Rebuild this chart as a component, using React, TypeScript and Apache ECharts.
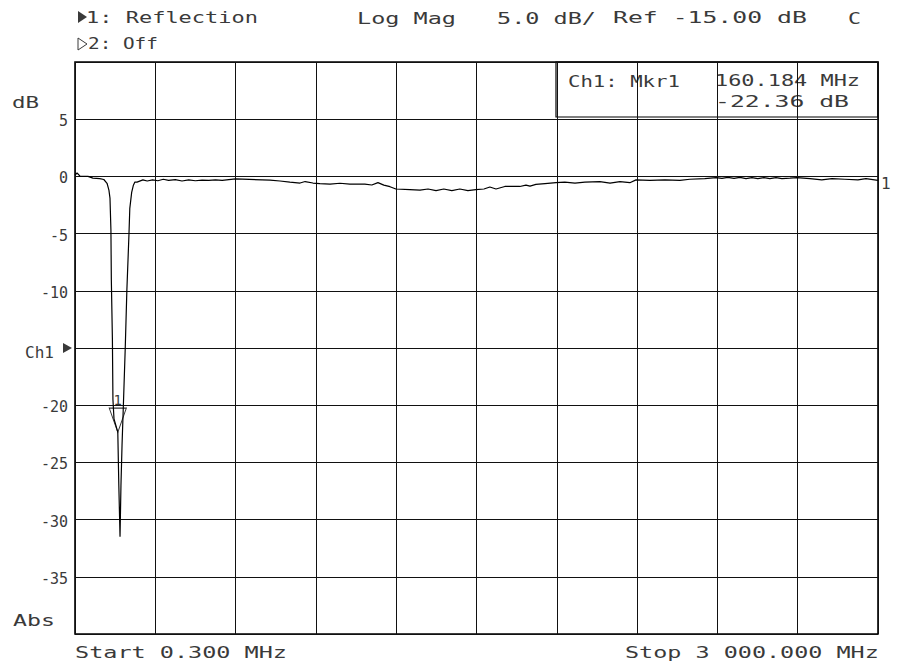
import React, { useEffect, useRef } from "react";
import * as echarts from "echarts";

// ---- Sweep settings ----
const START_MHZ = 0.3;
const STOP_MHZ = 3000;
const Y_MIN = -40;
const Y_MAX = 10;
const DB_PER_DIV = 5;

// ---- Trace (Ch1 reflection, log mag) ----
const freqMHz = [
  0.3, 8, 19, 49, 67, 93, 108, 120, 127, 131, 134.5, 136, 140, 142, 146, 160.184,
  164, 168.5, 172, 176, 181, 188, 194, 202, 205, 212, 218, 224, 232, 254, 270, 290,
  310, 330, 350, 375, 400, 425, 450, 475, 500, 525, 550, 575, 600, 729, 766, 803,
  841, 860, 889, 915, 953, 990, 1027, 1083, 1109, 1132, 1154, 1177, 1199, 1251,
  1289, 1319, 1349, 1378, 1408, 1438, 1468, 1498, 1528, 1550, 1573, 1606, 1662,
  1685, 1700, 1722, 1756, 1797, 1830, 1868, 1905, 1961, 1999, 2036, 2073, 2096,
  2148, 2204, 2260, 2297, 2353, 2395, 2417, 2439, 2462, 2484, 2507, 2529, 2551,
  2574, 2596, 2619, 2641, 2671, 2697, 2746, 2790, 2828, 2876, 2925, 2955, 3000,
];
const magDb = [
  0.1, 0.3, 0.03, 0, -0.15, -0.2, -0.27, -0.6, -1.2, -1.9, -4.7, -9, -14.2, -19.5,
  -21.2, -22.36, -27, -31.5, -27, -23.5, -20, -15, -10, -5, -2.8, -1.4, -0.8, -0.5,
  -0.5, -0.3, -0.4, -0.3, -0.38, -0.25, -0.35, -0.28, -0.4, -0.3, -0.38, -0.32,
  -0.35, -0.3, -0.35, -0.28, -0.22, -0.32, -0.4, -0.5, -0.58, -0.45, -0.58, -0.63,
  -0.67, -0.6, -0.67, -0.67, -0.75, -0.54, -0.76, -0.9, -1.1, -1.15, -1.2, -1.1,
  -1.24, -1.1, -1.24, -1.1, -1.24, -1.15, -1.1, -0.93, -1.1, -0.88, -0.88, -0.77,
  -0.85, -0.7, -0.63, -0.55, -0.5, -0.58, -0.5, -0.45, -0.58, -0.45, -0.55, -0.3,
  -0.35, -0.3, -0.35, -0.25, -0.2, -0.1, -0.17, -0.08, -0.17, -0.08, -0.2, -0.1,
  -0.2, -0.1, -0.2, -0.1, -0.2, -0.15, -0.1, -0.2, -0.3, -0.2, -0.25, -0.3, -0.2,
  -0.35,
];

// ---- Marker ----
const markerFreqMHz = [160.184];
const markerDb = [-22.36];

// ---- Y tick labels ----
const yTickValues = [5, 0, -5, -10, -15, -20, -25, -30, -35];
const yTickTexts = ["5", "0", "-5", "-10", "Ch1", "-20", "-25", "-30", "-35"];

const MONO = "'DejaVu Sans Mono', 'Liberation Mono', monospace";
const INK = "#3a3a3a";

// grid box (pixels)
const G_LEFT = 75;
const G_TOP = 62;
const G_W = 803;
const G_H = 572;

function txt(text: string, left: number, right: number, cy: number, fs = 16) {
  const natural = text.length * 0.602 * fs;
  return {
    type: "text",
    x: left,
    y: cy,
    scaleX: (right - left + 3) / natural,
    silent: true,
    style: {
      text,
      fontFamily: MONO,
      fontSize: fs,
      fill: INK,
      align: "left",
      verticalAlign: "middle",
    },
  };
}

export default function App() {
  const ref = useRef<HTMLDivElement>(null);

  useEffect(() => {
    if (!ref.current) return;
    const chart = echarts.init(ref.current, undefined, { renderer: "svg" });
    const yOf = (v: number) => G_TOP + ((Y_MAX - v) / (Y_MAX - Y_MIN)) * G_H;
    const ch1Y = yOf(-15);

    const option: any = {
      animation: false,
      backgroundColor: "#ffffff",
      grid: {
        left: G_LEFT,
        top: G_TOP,
        width: G_W,
        height: G_H,
        show: true,
        borderColor: "#000",
        borderWidth: 1.6,
        backgroundColor: "transparent",
      },
      xAxis: {
        type: "value",
        min: START_MHZ,
        max: STOP_MHZ,
        interval: (STOP_MHZ - START_MHZ) / 10,
        axisLabel: { show: false },
        axisTick: { show: false },
        axisLine: { show: false },
        splitLine: { show: true, lineStyle: { color: "#111", width: 1 } },
      },
      yAxis: {
        type: "value",
        min: Y_MIN,
        max: Y_MAX,
        interval: DB_PER_DIV,
        axisTick: { show: false },
        axisLine: { show: false },
        splitLine: { show: true, lineStyle: { color: "#111", width: 1 } },
        axisLabel: {
          margin: 7,
          fontFamily: MONO,
          fontSize: 15,
          color: INK,
          padding: [4, 0, 0, 0],
          formatter: (v: number) => {
            const i = yTickValues.indexOf(v);
            if (i < 0) return "";
            if (yTickTexts[i] === "Ch1") return "{ch|Ch1}";
            return yTickTexts[i];
          },
          rich: {
            ch: { fontFamily: MONO, fontSize: 16, color: INK, padding: [4, 14, 0, 0] },
          },
        },
      },
      series: [
        {
          type: "line",
          data: freqMHz.map((f, i) => [f, magDb[i]]),
          showSymbol: false,
          symbol: "none",
          lineStyle: { color: "#000", width: 1.2 },
          endLabel: {
            show: true,
            formatter: "1",
            fontFamily: MONO,
            fontSize: 16,
            color: INK,
            distance: 3,
            offset: [0, 3],
          },
          z: 3,
        },
        {
          type: "scatter",
          data: markerFreqMHz.map((f, i) => [f, markerDb[i]]),
          symbol: "triangle",
          symbolRotate: 180,
          symbolSize: [17, 24],
          symbolOffset: [0, "-50%"],
          itemStyle: { color: "rgba(255,255,255,0)", borderColor: "#000", borderWidth: 1.1 },
          label: {
            show: true,
            formatter: "1",
            position: "top",
            distance: 1,
            fontFamily: MONO,
            fontSize: 14,
            color: "#000",
          },
          z: 4,
        },
      ],
      graphic: [
        // channel pointers
        { type: "polygon", silent: true, shape: { points: [[78, 11], [87, 17], [78, 23]] }, style: { fill: INK } },
        { type: "polygon", silent: true, shape: { points: [[78, 38], [87, 44], [78, 50]] }, style: { fill: "none", stroke: INK, lineWidth: 1 } },
        { type: "polygon", silent: true, shape: { points: [[63, ch1Y - 5], [72, ch1Y], [63, ch1Y + 5]] }, style: { fill: INK } },
        // header
        txt("1: Reflection", 86, 255, 18),
        txt("Log Mag", 357, 453, 18),
        txt("5.0 dB/", 497, 593, 18),
        txt("Ref -15.00 dB", 613, 804, 18),
        txt("C", 848, 858, 18),
        txt("2: Off", 88, 155, 44),
        // axis side labels
        txt("dB", 12, 36, 103),
        txt("Abs", 13, 52, 620),
        // footer
        txt("Start 0.300 MHz", 75, 284, 652),
        txt("Stop 3 000.000 MHz", 625, 876, 652),
        // marker readout box
        {
          type: "rect",
          silent: true,
          shape: { x: 556, y: G_TOP, width: 878 - 556, height: 117 - G_TOP },
          style: { fill: "none", stroke: "#000", lineWidth: 1.2 },
        },
        txt("Ch1: Mkr1", 568, 677, 81),
        txt("160.184 MHz", 715, 857, 81),
        txt("-22.36 dB", 715, 846, 102),
      ],
    };

    chart.setOption(option);
    return () => chart.dispose();
  }, []);

  return (
    <div
      ref={ref}
      style={{ position: "fixed", left: 0, top: 0, width: 900, height: 669, background: "#fff" }}
    />
  );
}
